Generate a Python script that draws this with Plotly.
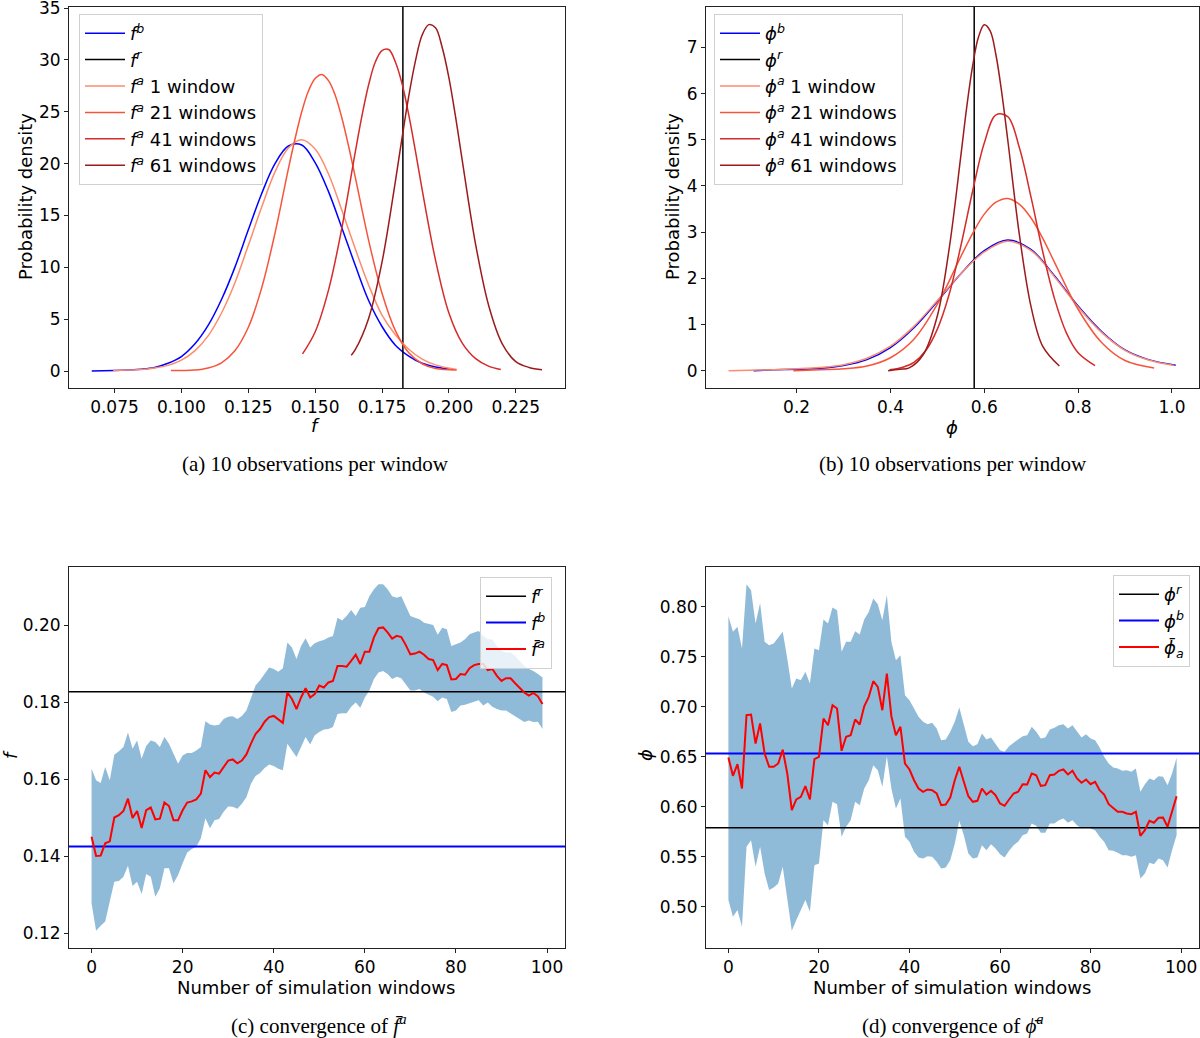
import plotly.graph_objects as go

# ---- (a) posterior densities of f ----
F_R = 0.1828
FB_X = [0.0665, 0.075, 0.08, 0.085, 0.09, 0.095, 0.1, 0.105, 0.11, 0.115, 0.12, 0.125, 0.13, 0.135,
        0.14, 0.145, 0.15, 0.155, 0.16, 0.165, 0.17, 0.175, 0.18, 0.185, 0.19, 0.195, 0.2015]
FB_Y = [0.0, 0.05, 0.1, 0.18, 0.35, 0.75, 1.4, 2.6, 4.4, 6.9, 10.0, 13.6, 17.1, 20.0,
        21.7, 21.8, 20.1, 17.3, 13.8, 10.2, 6.8, 4.3, 2.5, 1.45, 0.75, 0.4, 0.15]
FA1_X = [0.0745, 0.08, 0.085, 0.09, 0.095, 0.1, 0.105, 0.11, 0.115, 0.12, 0.125, 0.13, 0.135, 0.14,
         0.145, 0.15, 0.155, 0.16, 0.165, 0.17, 0.175, 0.18, 0.185, 0.19, 0.195, 0.2029]
FA1_Y = [0.05, 0.1, 0.15, 0.3, 0.55, 1.05, 1.95, 3.4, 5.6, 8.5, 12.1, 15.8, 19.2, 21.5,
         22.3, 21.4, 19.0, 15.5, 11.8, 8.3, 5.4, 3.5, 2.1, 1.15, 0.6, 0.15]
FA21_X = [0.0961, 0.1, 0.105, 0.11, 0.115, 0.12, 0.125, 0.13, 0.135, 0.14, 0.1425, 0.145, 0.1475,
          0.15, 0.1525, 0.155, 0.1575, 0.16, 0.1625, 0.165, 0.17, 0.175, 0.18, 0.185, 0.19,
          0.195, 0.2029]
FA21_Y = [0.05, 0.06, 0.1, 0.3, 0.8, 1.96, 4.2, 8.0, 13.3, 19.5, 22.4, 25.0, 27.0,
          28.2, 28.6, 28.0, 26.6, 24.4, 21.7, 18.7, 12.6, 7.5, 3.9, 1.76, 0.71,
          0.25, 0.1]
FA41_X = [0.1453, 0.15, 0.155, 0.16, 0.165, 0.1675, 0.17, 0.1725, 0.175, 0.1775, 0.18, 0.1825,
          0.185, 0.1875, 0.19, 0.195, 0.2, 0.205, 0.21, 0.215, 0.2194]
FA41_Y = [1.66, 3.77, 7.8, 13.8, 21.1, 24.6, 27.6, 29.8, 30.9, 31.0, 29.8, 27.7,
          24.7, 21.2, 17.5, 10.7, 5.6, 2.7, 1.2, 0.45, 0.15]
FA61_X = [0.1635, 0.165, 0.17, 0.175, 0.18, 0.1825, 0.185, 0.1875, 0.19, 0.1925, 0.195, 0.1975,
          0.2, 0.2025, 0.205, 0.21, 0.215, 0.22, 0.225, 0.23, 0.2348]
FA61_Y = [1.52, 2.06, 5.08, 10.5, 18.3, 22.5, 26.5, 29.9, 32.4, 33.4, 33.1, 31.2,
          28.3, 24.5, 20.3, 12.2, 6.2, 2.6, 0.92, 0.35, 0.12]

# ---- (b) posterior densities of phi ----
PHI_R_LINE = 0.5785
PB_X = [0.108, 0.15, 0.2, 0.25, 0.3, 0.35, 0.4, 0.45, 0.5, 0.55, 0.6, 0.65, 0.7, 0.75, 0.8,
        0.85, 0.9, 0.95, 1.008]
PB_Y = [0.0, 0.02, 0.03, 0.05, 0.11, 0.24, 0.5, 0.93, 1.5, 2.1, 2.6, 2.83, 2.62, 2.05, 1.4,
        0.85, 0.45, 0.24, 0.12]
PA1_X = [0.055, 0.1, 0.15, 0.2, 0.25, 0.3, 0.35, 0.4, 0.45, 0.5, 0.55, 0.6, 0.65, 0.7,
         0.75, 0.8, 0.85, 0.9, 0.95, 1.005]
PA1_Y = [0.0, 0.01, 0.02, 0.04, 0.07, 0.13, 0.27, 0.53, 0.96, 1.52, 2.1, 2.57, 2.8, 2.6,
         2.03, 1.38, 0.83, 0.44, 0.23, 0.11]
PA21_X = [0.193, 0.25, 0.3, 0.35, 0.4, 0.45, 0.5, 0.55, 0.575, 0.6, 0.625, 0.65, 0.675, 0.7,
          0.725, 0.75, 0.8, 0.85, 0.9, 0.962]
PA21_Y = [0.0, 0.02, 0.04, 0.1, 0.28, 0.68, 1.44, 2.47, 2.97, 3.39, 3.65, 3.73, 3.6, 3.3,
          2.86, 2.34, 1.33, 0.61, 0.22, 0.06]
PA41_X = [0.398, 0.425, 0.45, 0.475, 0.5, 0.525, 0.55, 0.575, 0.6, 0.625, 0.65, 0.675,
          0.7, 0.725, 0.75, 0.775, 0.8, 0.836]
PA41_Y = [0.02, 0.07, 0.18, 0.43, 0.9, 1.65, 2.7, 3.88, 4.93, 5.54, 5.5, 4.82,
          3.74, 2.56, 1.55, 0.82, 0.39, 0.11]
PA61_X = [0.395, 0.42, 0.44, 0.47, 0.5, 0.525, 0.55, 0.5625, 0.575, 0.5875, 0.6, 0.6125, 0.625,
          0.6375, 0.65, 0.675, 0.7, 0.725, 0.76]
PA61_Y = [0.0, 0.03, 0.06, 0.35, 1.19, 2.63, 4.65, 5.7, 6.59, 7.22, 7.49, 7.36, 6.83,
          6.0, 5.0, 2.93, 1.37, 0.52, 0.1]

# ---- (c) / (d) convergence over windows ----
WINDOWS = list(range(100))
F_REF = 0.1828
F_BACK = 0.1426
F_MEAN = [0.1451, 0.1401, 0.1402, 0.1434, 0.1439, 0.1501, 0.1507, 0.1518, 0.1550, 0.1500,
          0.1518, 0.1474, 0.1520, 0.1527, 0.1496, 0.1498, 0.1540, 0.1531, 0.1494, 0.1494,
          0.1520, 0.1540, 0.1543, 0.1548, 0.1563, 0.1624, 0.1606, 0.1618, 0.1615, 0.1632,
          0.1649, 0.1652, 0.1642, 0.1649, 0.1665, 0.1693, 0.1718, 0.1731, 0.1750, 0.1762,
          0.1765, 0.1756, 0.1747, 0.1826, 0.1809, 0.1783, 0.1813, 0.1837, 0.1813, 0.1822,
          0.1844, 0.1839, 0.1852, 0.1856, 0.1895, 0.1895, 0.1893, 0.1908, 0.1924, 0.1900,
          0.1932, 0.1932, 0.1969, 0.1993, 0.1995, 0.1982, 0.1966, 0.1973, 0.1970, 0.1949,
          0.1925, 0.1927, 0.1932, 0.1924, 0.1913, 0.1910, 0.1884, 0.1900, 0.1897, 0.1860,
          0.1861, 0.1874, 0.1872, 0.1889, 0.1897, 0.1900, 0.1900, 0.1884, 0.1887, 0.1869,
          0.1856, 0.1863, 0.1863, 0.1850, 0.1837, 0.1826, 0.1818, 0.1825, 0.1816, 0.1796]
F_UPPER = [0.1628, 0.1598, 0.1591, 0.1632, 0.1598, 0.1664, 0.1673, 0.1684, 0.1722, 0.1680,
           0.1701, 0.1654, 0.1687, 0.1701, 0.1697, 0.1684, 0.1710, 0.1693, 0.1667, 0.1641,
           0.1662, 0.1669, 0.1669, 0.1675, 0.1684, 0.1751, 0.1743, 0.1740, 0.1742, 0.1757,
           0.1763, 0.1764, 0.1757, 0.1765, 0.1779, 0.1809, 0.1844, 0.1858, 0.1875, 0.1891,
           0.1887, 0.1880, 0.1889, 0.1956, 0.1943, 0.1913, 0.1947, 0.1967, 0.1943, 0.1954,
           0.1959, 0.1962, 0.1969, 0.1973, 0.2020, 0.2013, 0.2025, 0.2040, 0.2025, 0.2046,
           0.2048, 0.2076, 0.2094, 0.2107, 0.2107, 0.2094, 0.2076, 0.2072, 0.2076, 0.2051,
           0.2025, 0.2020, 0.2016, 0.2007, 0.2003, 0.2001, 0.1976, 0.1994, 0.1990, 0.1947,
           0.1951, 0.1956, 0.1964, 0.1977, 0.1982, 0.1986, 0.1973, 0.1964, 0.1964, 0.1947,
           0.1934, 0.1930, 0.1930, 0.1921, 0.1908, 0.1895, 0.1887, 0.1882, 0.1874, 0.1865]
F_LOWER = [0.1278, 0.1207, 0.1220, 0.1231, 0.1283, 0.1334, 0.1336, 0.1347, 0.1376, 0.1323,
           0.1334, 0.1302, 0.1354, 0.1347, 0.1295, 0.1317, 0.1369, 0.1369, 0.1330, 0.1352,
           0.1382, 0.1410, 0.1419, 0.1425, 0.1447, 0.1499, 0.1473, 0.1494, 0.1497, 0.1516,
           0.1530, 0.1529, 0.1524, 0.1537, 0.1554, 0.1589, 0.1609, 0.1617, 0.1630, 0.1639,
           0.1635, 0.1628, 0.1624, 0.1693, 0.1675, 0.1658, 0.1684, 0.1710, 0.1691, 0.1715,
           0.1723, 0.1730, 0.1731, 0.1736, 0.1770, 0.1772, 0.1772, 0.1789, 0.1800, 0.1786,
           0.1813, 0.1831, 0.1861, 0.1878, 0.1882, 0.1874, 0.1861, 0.1867, 0.1863, 0.1848,
           0.1831, 0.1831, 0.1835, 0.1826, 0.1820, 0.1815, 0.1803, 0.1813, 0.1809, 0.1775,
           0.1779, 0.1792, 0.1794, 0.1799, 0.1802, 0.1806, 0.1792, 0.1800, 0.1789, 0.1783,
           0.1779, 0.1779, 0.1772, 0.1763, 0.1757, 0.1749, 0.1753, 0.1749, 0.1750, 0.1731]

PHI_REF = 0.579
PHI_BACK = 0.6533
PHI_MEAN = [0.6493, 0.6310, 0.6426, 0.6183, 0.6916, 0.6923, 0.6633, 0.6833, 0.6533, 0.6400,
            0.6400, 0.6433, 0.6570, 0.6333, 0.5967, 0.6073, 0.6100, 0.6206, 0.6073, 0.6476,
            0.6500, 0.6883, 0.6816, 0.7016, 0.6983, 0.6560, 0.6700, 0.6716, 0.6873, 0.6823,
            0.7006, 0.7100, 0.7256, 0.7200, 0.6966, 0.7333, 0.6906, 0.6716, 0.6800, 0.6433,
            0.6373, 0.6266, 0.6183, 0.6150, 0.6173, 0.6166, 0.6133, 0.6016, 0.6023, 0.6093,
            0.6266, 0.6400, 0.6250, 0.6106, 0.6050, 0.6060, 0.6183, 0.6123, 0.6160, 0.6116,
            0.6033, 0.6010, 0.6073, 0.6133, 0.6150, 0.6226, 0.6223, 0.6333, 0.6316, 0.6210,
            0.6216, 0.6316, 0.6323, 0.6360, 0.6373, 0.6323, 0.6360, 0.6283, 0.6240, 0.6273,
            0.6226, 0.6250, 0.6166, 0.6123, 0.6026, 0.5983, 0.5950, 0.5950, 0.5933, 0.5926,
            0.5950, 0.5710, 0.5766, 0.5860, 0.5840, 0.5890, 0.5893, 0.5800, 0.5950, 0.6106]
PHI_UPPER = [0.7906, 0.7750, 0.7800, 0.7583, 0.8226, 0.8166, 0.7833, 0.8040, 0.7650, 0.7616,
             0.7633, 0.7693, 0.7750, 0.7483, 0.7183, 0.7283, 0.7266, 0.7350, 0.7233, 0.7583,
             0.7566, 0.7873, 0.7833, 0.7993, 0.7966, 0.7550, 0.7650, 0.7650, 0.7756, 0.7723,
             0.7873, 0.7950, 0.8083, 0.8026, 0.7866, 0.8116, 0.7650, 0.7466, 0.7516, 0.7116,
             0.7066, 0.6983, 0.6900, 0.6850, 0.6826, 0.6840, 0.6783, 0.6666, 0.6673, 0.6750,
             0.6850, 0.6993, 0.6816, 0.6650, 0.6606, 0.6626, 0.6733, 0.6673, 0.6693, 0.6633,
             0.6566, 0.6550, 0.6606, 0.6640, 0.6673, 0.6706, 0.6716, 0.6800, 0.6750, 0.6683,
             0.6693, 0.6773, 0.6790, 0.6816, 0.6826, 0.6783, 0.6816, 0.6750, 0.6693, 0.6726,
             0.6683, 0.6666, 0.6593, 0.6500, 0.6433, 0.6393, 0.6383, 0.6360, 0.6366, 0.6350,
             0.6383, 0.6150, 0.6226, 0.6283, 0.6266, 0.6306, 0.6300, 0.6216, 0.6333, 0.6490]
PHI_LOWER = [0.5067, 0.4900, 0.4967, 0.4800, 0.5600, 0.5666, 0.5400, 0.5600, 0.5333, 0.5167,
             0.5193, 0.5233, 0.5400, 0.5067, 0.4760, 0.4867, 0.4967, 0.5067, 0.4950, 0.5416,
             0.5433, 0.5866, 0.5816, 0.6050, 0.6026, 0.5700, 0.5800, 0.5866, 0.6050, 0.6016,
             0.6183, 0.6266, 0.6416, 0.6366, 0.6200, 0.6506, 0.6183, 0.5983, 0.6083, 0.5700,
             0.5650, 0.5550, 0.5493, 0.5483, 0.5506, 0.5500, 0.5450, 0.5383, 0.5393, 0.5466,
             0.5630, 0.5860, 0.5716, 0.5533, 0.5483, 0.5493, 0.5616, 0.5566, 0.5626, 0.5583,
             0.5526, 0.5493, 0.5560, 0.5616, 0.5650, 0.5716, 0.5733, 0.5833, 0.5810, 0.5740,
             0.5740, 0.5833, 0.5833, 0.5866, 0.5883, 0.5840, 0.5866, 0.5816, 0.5783, 0.5800,
             0.5783, 0.5766, 0.5700, 0.5650, 0.5566, 0.5560, 0.5540, 0.5516, 0.5516, 0.5500,
             0.5516, 0.5283, 0.5333, 0.5440, 0.5426, 0.5483, 0.5466, 0.5393, 0.5566, 0.5716]

REDS = ["#fc8d6e", "#f6553c", "#d42b2b", "#9c1a1c"]
WIN_LABELS = ["1 window", "21 windows", "41 windows", "61 windows"]
FONT = "DejaVu Sans"
SERIF = "Liberation Serif"

fig = go.Figure()

# panel (a)
fig.add_trace(go.Scatter(x=FB_X, y=FB_Y, mode="lines", line=dict(color="blue", width=1.5, shape="spline"),
                         name="<i>f</i><sup><i>b</i></sup>", xaxis="x", yaxis="y", legend="legend"))
fig.add_trace(go.Scatter(x=[F_R, F_R], y=[-5, 40], mode="lines", line=dict(color="black", width=1.5),
                         name="<i>f</i><sup><i>r</i></sup>", xaxis="x", yaxis="y", legend="legend"))
for xs, ys, c, lab in zip([FA1_X, FA21_X, FA41_X, FA61_X], [FA1_Y, FA21_Y, FA41_Y, FA61_Y], REDS, WIN_LABELS):
    fig.add_trace(go.Scatter(x=xs, y=ys, mode="lines", line=dict(color=c, width=1.5, shape="spline"),
                             name="<i>f</i><sup><i>a</i></sup> " + lab, xaxis="x", yaxis="y", legend="legend"))

# panel (b)
fig.add_trace(go.Scatter(x=PB_X, y=PB_Y, mode="lines", line=dict(color="blue", width=1.5, shape="spline"),
                         name="<i>ϕ</i><sup><i>b</i></sup>", xaxis="x2", yaxis="y2", legend="legend2"))
fig.add_trace(go.Scatter(x=[PHI_R_LINE, PHI_R_LINE], y=[-1, 9], mode="lines", line=dict(color="black", width=1.5),
                         name="<i>ϕ</i><sup><i>r</i></sup>", xaxis="x2", yaxis="y2", legend="legend2"))
for xs, ys, c, lab in zip([PA1_X, PA21_X, PA41_X, PA61_X], [PA1_Y, PA21_Y, PA41_Y, PA61_Y], REDS, WIN_LABELS):
    fig.add_trace(go.Scatter(x=xs, y=ys, mode="lines", line=dict(color=c, width=1.5, shape="spline"),
                             name="<i>ϕ</i><sup><i>a</i></sup> " + lab, xaxis="x2", yaxis="y2", legend="legend2"))

# panels (c) and (d)
band = "rgba(31,119,180,0.5)"
for ax, lg, lo, hi, mean, ref, back, sym, mean_name in [
        ("3", "legend3", F_LOWER, F_UPPER, F_MEAN, F_REF, F_BACK, "<i>f</i>", "<i>f̄</i><sup><i>a</i></sup>"),
        ("4", "legend4", PHI_LOWER, PHI_UPPER, PHI_MEAN, PHI_REF, PHI_BACK, "<i>ϕ</i>", "<i>ϕ̄</i><sub><i>a</i></sub>")]:
    fig.add_trace(go.Scatter(x=WINDOWS, y=lo, mode="lines", line=dict(width=0, color=band),
                             showlegend=False, hoverinfo="skip", xaxis="x" + ax, yaxis="y" + ax))
    fig.add_trace(go.Scatter(x=WINDOWS, y=hi, mode="lines", line=dict(width=0, color=band), fill="tonexty",
                             fillcolor=band, showlegend=False, hoverinfo="skip", xaxis="x" + ax, yaxis="y" + ax))
    fig.add_trace(go.Scatter(x=[-10, 110], y=[ref, ref], mode="lines", line=dict(color="black", width=1.6),
                             name=sym + "<sup><i>r</i></sup>", xaxis="x" + ax, yaxis="y" + ax, legend=lg))
    fig.add_trace(go.Scatter(x=[-10, 110], y=[back, back], mode="lines", line=dict(color="blue", width=2),
                             name=sym + "<sup><i>b</i></sup>", xaxis="x" + ax, yaxis="y" + ax, legend=lg))
    fig.add_trace(go.Scatter(x=WINDOWS, y=mean, mode="lines", line=dict(color="red", width=2),
                             name=mean_name, xaxis="x" + ax, yaxis="y" + ax, legend=lg))

W, H = 1200, 1038


def px(x):
    return x / W


def py(y):
    return 1 - y / H


ax_common = dict(showline=True, mirror=True, linecolor="#222", linewidth=1, ticks="outside", ticklen=4,
                 tickcolor="#222", showgrid=False, zeroline=False, ticklabeloverflow="allow", automargin=False,
                 tickfont=dict(family=FONT, size=17, color="black"))

dom_left = [px(69), px(565)]
dom_right = [px(706), px(1199)]
dom_top = [py(388), py(7)]
dom_bot = [py(948), py(567)]

fig.update_layout(
    width=W, height=H, margin=dict(l=0, r=0, t=0, b=0, autoexpand=False),
    paper_bgcolor="white", plot_bgcolor="white",
    font=dict(family=FONT, size=17, color="black"),
    xaxis=dict(domain=dom_left, anchor="y", range=[0.058, 0.2434], tickvals=[0.075, 0.1, 0.125, 0.15, 0.175, 0.2, 0.225],
               tickformat=".3f", **ax_common),
    yaxis=dict(domain=dom_top, anchor="x", range=[-1.63, 35.1], tickvals=[0, 5, 10, 15, 20, 25, 30, 35], **ax_common),
    xaxis2=dict(domain=dom_right, anchor="y2", range=[0.0068, 1.0577], tickvals=[0.2, 0.4, 0.6, 0.8, 1.0],
                tickformat=".1f", **ax_common),
    yaxis2=dict(domain=dom_top, anchor="x2", range=[-0.375, 7.875], tickvals=[0, 1, 2, 3, 4, 5, 6, 7], **ax_common),
    xaxis3=dict(domain=dom_left, anchor="y3", range=[-4.95, 103.95], tickvals=[0, 20, 40, 60, 80, 100], **ax_common),
    yaxis3=dict(domain=dom_bot, anchor="x3", range=[0.1162, 0.2152], tickvals=[0.12, 0.14, 0.16, 0.18, 0.20],
                tickformat=".2f", **ax_common),
    xaxis4=dict(domain=dom_right, anchor="y4", range=[-4.95, 103.95], tickvals=[0, 20, 40, 60, 80, 100], **ax_common),
    yaxis4=dict(domain=dom_bot, anchor="x4", range=[0.4587, 0.8399], tickvals=[0.5, 0.55, 0.6, 0.65, 0.7, 0.75, 0.8],
                tickformat=".2f", **ax_common),
)

leg_common = dict(bgcolor="rgba(255,255,255,0.8)", bordercolor="#d0d0d0", borderwidth=1, traceorder="normal",
                  font=dict(family=FONT, size=18, color="black"), itemwidth=40, tracegroupgap=0)
fig.update_layout(
    legend=dict(x=px(79), y=py(14), xanchor="left", yanchor="top", **leg_common),
    legend2=dict(x=px(714), y=py(14), xanchor="left", yanchor="top", **leg_common),
    legend3=dict(x=px(552), y=py(577), xanchor="right", yanchor="top", **leg_common),
    legend4=dict(x=px(1190), y=py(575), xanchor="right", yanchor="top", **leg_common),
)

annots = [
    (316, 425, "<i>f</i>", 0, FONT, 18),
    (25, 197, "Probability density", -90, FONT, 18),
    (952, 427, "<i>ϕ</i>", 0, FONT, 18),
    (672, 197, "Probability density", -90, FONT, 18),
    (316, 987, "Number of simulation windows", 0, FONT, 18),
    (10, 755, "<i>f</i>", -90, FONT, 18),
    (952, 987, "Number of simulation windows", 0, FONT, 18),
    (645, 755, "<i>ϕ</i>", -90, FONT, 18),
    (316, 464, "(a) 10 observations per window", 0, SERIF, 21),
    (953, 464, "(b) 10 observations per window", 0, SERIF, 21),
    (318, 1024, "(c) convergence of <i>f̄</i><sup><i>a</i></sup>", 0, SERIF, 21),
    (953, 1024, "(d) convergence of <i>ϕ̄</i><sup><i>a</i></sup>", 0, SERIF, 21),
]
for x, y, t, ang, fam, size in annots:
    fig.add_annotation(x=px(x), y=py(y), xref="paper", yref="paper", text=t, showarrow=False, textangle=ang,
                       xanchor="center", yanchor="middle", font=dict(family=fam, size=size, color="black"))

# the page gets the figure flush with the window corner
fig.write_html("out.html", config={"displayModeBar": False},
               post_script="document.body.style.margin='0px';")
